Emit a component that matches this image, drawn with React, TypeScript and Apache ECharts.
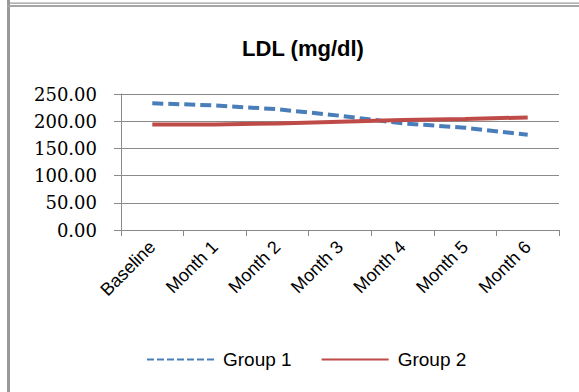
import React, { useEffect, useRef } from "react";
import * as echarts from "echarts";

const categories = ["Baseline", "Month 1", "Month 2", "Month 3", "Month 4", "Month 5", "Month 6"];
const group1 = [233, 229, 222, 210, 196, 188, 175];
const group2 = [194, 194, 196, 199, 202, 204, 207];
const seriesNames = ["Group 1", "Group 2"];
const titleText = "LDL (mg/dl)";

function dashIcon(): string {
  let d = "";
  for (let i = 0; i < 7; i++) {
    const x = i * 10;
    d += `M${x},0 h7 v2 h-7 z `;
  }
  return "path://" + d.trim();
}

export default function App() {
  const ref = useRef<HTMLDivElement>(null);
  useEffect(() => {
    if (!ref.current) return;
    const chart = echarts.init(ref.current, null, { renderer: "svg" });
    const gridColor = "#8a8a8a";
    chart.setOption({
      animation: false,
      backgroundColor: "#ffffff",
      title: {
        text: titleText,
        left: 298,
        textAlign: "center",
        top: 32,
        textStyle: { fontFamily: "Liberation Sans", fontWeight: "bold", fontSize: 22, color: "#000" },
      },
      grid: { left: 121, right: 20, top: 94, bottom: 162, containLabel: false },
      legend: {
        left: 142,
        top: 345,
        itemWidth: 67,
        itemHeight: 2,
        itemGap: 30,
        textStyle: { fontFamily: "Liberation Sans", fontSize: 19, color: "#000", padding: [0, 0, 0, 4] },
        data: [
          { name: seriesNames[0], icon: dashIcon(), itemStyle: { color: "#4a7ebb" } },
          { name: seriesNames[1], icon: "rect", itemStyle: { color: "#be4b48" } },
        ],
      },
      xAxis: {
        type: "category",
        data: categories,
        boundaryGap: true,
        axisLine: { lineStyle: { color: gridColor, width: 1 } },
        axisTick: { show: true, length: 6, lineStyle: { color: gridColor } },
        axisLabel: {
          rotate: 45,
          margin: 14,
          fontFamily: "Liberation Sans",
          fontSize: 18,
          color: "#000",
        },
        splitLine: { show: false },
      },
      yAxis: {
        type: "value",
        min: 0,
        max: 250,
        interval: 50,
        axisLine: { show: true, lineStyle: { color: gridColor, width: 1 } },
        axisTick: { show: true, length: 7, lineStyle: { color: gridColor } },
        axisLabel: {
          margin: 24,
          fontFamily: "DejaVu Serif",
          fontSize: 18,
          color: "#000",
          formatter: (v: number) => v.toFixed(2),
        },
        splitLine: { show: true, lineStyle: { color: gridColor, width: 1 } },
      },
      series: [
        {
          name: seriesNames[0],
          type: "line",
          data: group1,
          symbol: "none",
          color: "#4a7ebb",
          lineStyle: { color: "#4a7ebb", width: 4, type: [11, 5] },
        },
        {
          name: seriesNames[1],
          type: "line",
          data: group2,
          symbol: "none",
          color: "#be4b48",
          lineStyle: { color: "#be4b48", width: 4 },
        },
      ],
      graphic: [
        { type: "rect", shape: { x: 7, y: 0, width: 3, height: 392 }, style: { fill: "#9a9a9a" }, silent: true },
        { type: "rect", shape: { x: 7, y: 2.5, width: 572, height: 1.2 }, style: { fill: "#9a9a9a" }, silent: true },
        { type: "rect", shape: { x: 7, y: 5, width: 572, height: 2 }, style: { fill: "#a5a5a5" }, silent: true },
      ],
    });
    return () => chart.dispose();
  }, []);
  return (
    <div
      ref={ref}
      style={{ position: "fixed", left: 0, top: 0, width: 579, height: 392, background: "#fff" }}
    />
  );
}
